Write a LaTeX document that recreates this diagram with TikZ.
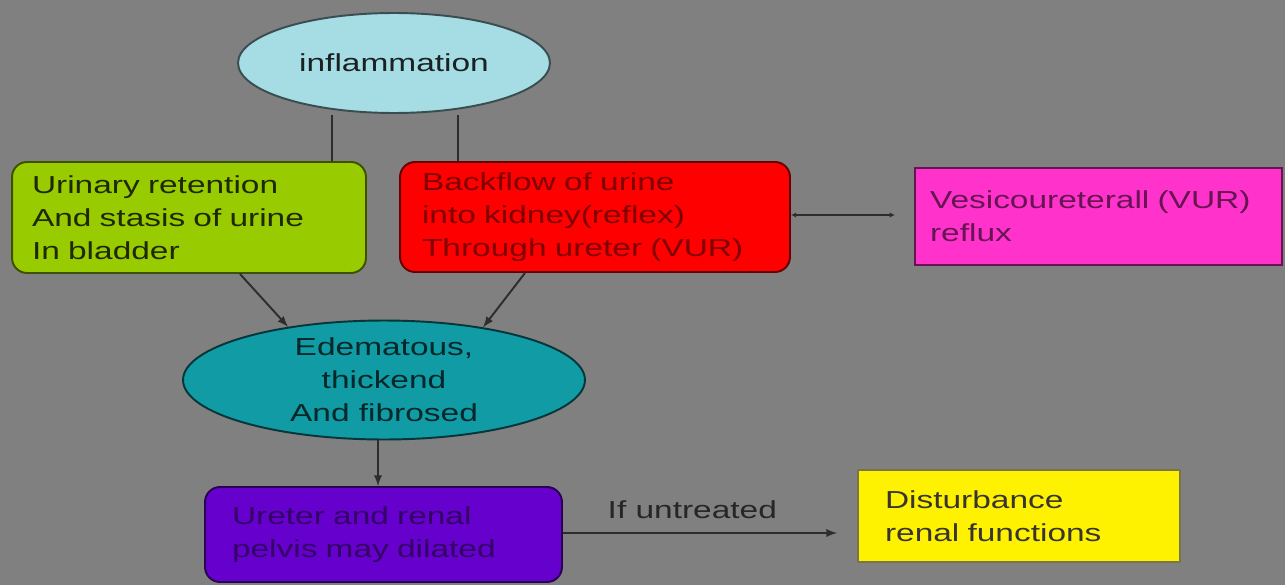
\documentclass[tikz,border=0pt]{standalone}
\usepackage{fontspec}
\setmainfont[FakeStretch=1.36]{Liberation Sans}
\usetikzlibrary{shapes.geometric, arrows.meta}

\definecolor{bggray}{RGB}{128,128,128}
\definecolor{inflfill}{RGB}{166,220,228}
\definecolor{greenfill}{RGB}{153,204,0}
\definecolor{magfill}{RGB}{255,51,204}
\definecolor{tealfill}{RGB}{16,155,165}
\definecolor{purplefill}{RGB}{102,0,204}
\definecolor{linegray}{RGB}{45,45,45}

\begin{document}
\begin{tikzpicture}[> = latex, x = 0.02cm, y = -0.02cm,
	every node/.style = {font = \fontsize{14}{18.8}\selectfont},
	box/.style = {draw = #1!40!black, line width = 1.1pt, align = left, inner ysep = 0pt},
	oval/.style = {ellipse, draw = #1!35!black, line width = 1.1pt, align = center, inner sep = 0pt},
	link/.style = {draw = linegray, line width = 1.1pt}]

	% Background

	\fill [bggray] (0, 0) rectangle (1285, 585);
	\useasboundingbox (0, 0) rectangle (1285, 585);

	% Top of the chart

	\node [oval = inflfill, fill = inflfill, text = inflfill!15!black,
		minimum width = 6.24cm, minimum height = 2cm] (inflam) at (394, 63) {inflammation};

	\node [box = greenfill, fill = greenfill, text = greenfill!20!black, rounded corners = 0.3cm,
		inner xsep = 0.4cm, text width = 6.28cm, minimum height = 2.22cm] (retention) at (189, 217.5)
		{Urinary retention\\And stasis of urine\\In bladder};

	\node [box = red, fill = red, text = red!50!black, rounded corners = 0.3cm,
		inner xsep = 0.44cm, text width = 6.92cm, minimum height = 2.2cm] (backflow) at (595, 217)
		{Backflow of urine\\into kidney(reflex)\\Through ureter (VUR)};

	\node [box = magfill, fill = magfill, text = magfill!40!black,
		inner xsep = 0.3cm, text width = 6.74cm, minimum height = 1.94cm] (vur) at (1098.5, 216.5)
		{Vesicoureterall (VUR)\\reflux};

	% Middle and bottom

	\node [oval = tealfill, fill = tealfill, text = tealfill!25!black,
		minimum width = 8.04cm, minimum height = 2.32cm] (edema) at (384, 380)
		{Edematous,\\thickend\\And fibrosed};

	\node [box = purplefill, fill = purplefill, text = purplefill!50!black, rounded corners = 0.3cm,
		inner xsep = 0.54cm, text width = 6.06cm, minimum height = 1.9cm] (dilate) at (383.5, 534.5)
		{Ureter and renal\\pelvis may dilated};

	\node [box = yellow, fill = yellow, text = yellow!10!black,
		inner xsep = 0.54cm, text width = 5.36cm, minimum height = 1.84cm] (renal) at (1019, 516)
		{Disturbance\\renal functions};

	% Connectors

	\coordinate (inflL) at (332, 115);
	\coordinate (inflR) at (458, 115);
	\draw [link] (inflL) -- (inflL |- retention.north);
	\draw [link] (inflR) -- (inflR |- backflow.north);

	\coordinate (vurEnd) at (895, 215);
	\draw [link, {Latex[length=3pt, width=3pt]}-{Latex[length=3pt, width=3pt]}] (backflow.east |- vurEnd) -- (vurEnd);

	\draw [link, ->] ([xshift = 1.02cm] retention.south) -- (edema.151);
	\draw [link, ->] ([xshift = -1.4cm] backflow.south) -- (edema.28);

	\draw [link, ->] ([xshift = -0.12cm] edema.south) -- ([xshift = -0.12cm] edema.south |- dilate.north);

	\draw [link, ->, shorten > = 0.4cm] ([yshift = 0.03cm] dilate.east) -- ([yshift = 0.03cm] dilate.east -| renal.west)
		node [pos = 0.44, above = 0.15cm, text = black!85] {If untreated};

\end{tikzpicture}
\end{document}
